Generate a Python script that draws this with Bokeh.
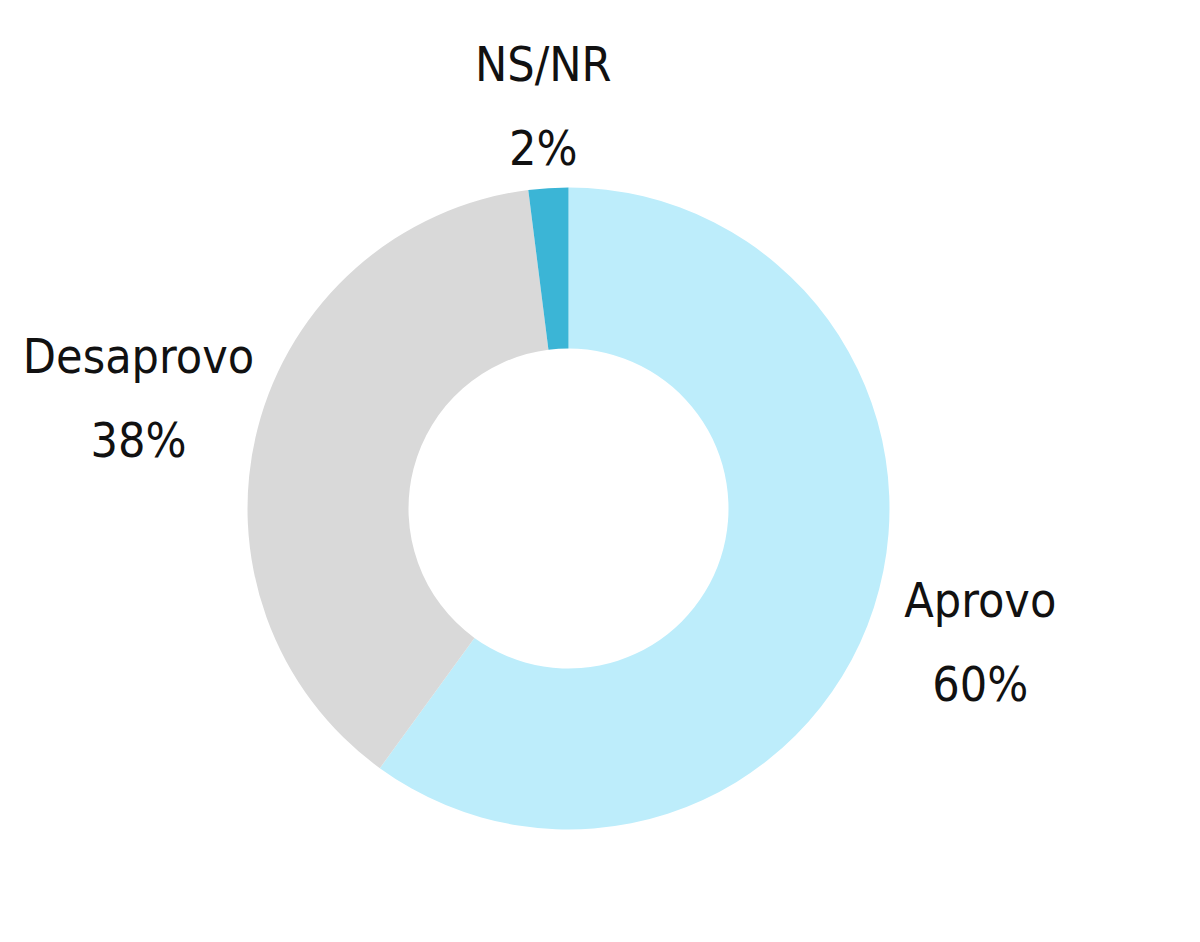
import math
from bokeh.plotting import figure
from bokeh.models import Range1d
from bokeh.core.properties import value
from bokeh.embed import file_html
from bokeh.resources import INLINE

categories = ["Aprovo", "Desaprovo", "NS/NR"]
percents = [60, 38, 2]
colors = ["#BDEDFB", "#D9D9D9", "#3BB5D6"]

W, H = 1184, 926
CX, CY = 568, 418
R_OUT, R_IN = 321, 160
label_r = [433, 444, 403]
FONT = "'DejaVu Sans Condensed', 'Liberation Sans Narrow', sans-serif"

p = figure(width=W, height=H, output_backend="svg", toolbar_location=None,
           x_range=Range1d(0, W), y_range=Range1d(0, H), min_border=0)
p.axis.visible = False
p.grid.visible = False
p.outline_line_color = None
p.background_fill_color = "white"

total = sum(percents)
start = 90.0
starts, ends, mids = [], [], []
for v in percents:
    sweep = 360.0 * v / total
    end = start - sweep
    starts.append(math.radians(end))
    ends.append(math.radians(start))
    mids.append(math.radians((start + end) / 2))
    start = end

p.annular_wedge(x=CX, y=CY, inner_radius=R_IN, outer_radius=R_OUT,
                start_angle=starts, end_angle=ends, color=colors,
                line_color=None, direction="anticlock")

for cat, pct, ang, r in zip(categories, percents, mids, label_r):
    lx = CX + r * math.cos(ang)
    ly = CY + r * math.sin(ang)
    p.text(x=[lx], y=[ly + 42], text=[cat], text_font=value(FONT),
           text_font_size="48px", text_align="center", text_baseline="middle",
           text_color="#111111")
    p.text(x=[lx], y=[ly - 42], text=[f"{pct}%"], text_font=value(FONT),
           text_font_size="48px", text_align="center", text_baseline="middle",
           text_color="#111111")

open("out.html", "w").write(file_html(p, INLINE))
